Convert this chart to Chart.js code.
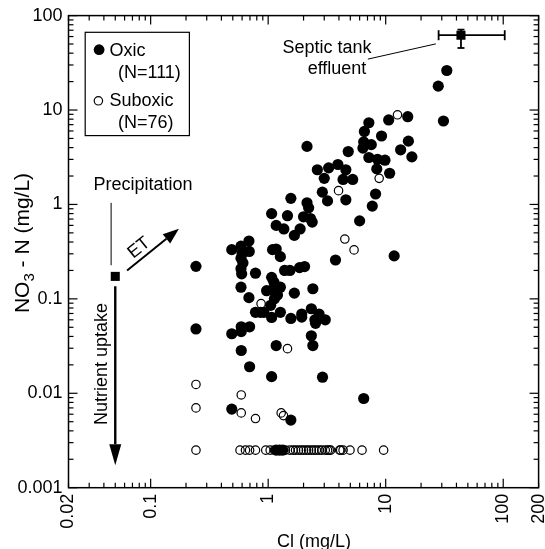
<!DOCTYPE html>
<html>
<head>
<meta charset="utf-8">
<script src="https://cdn.jsdelivr.net/npm/chart.js@4"></script>
<style>
  html, body { margin: 0; padding: 0; background: #fff; }
</style>
</head>
<body>
<canvas id="c" width="545" height="549"></canvas>
<script>
// Oxic wells (filled)
const oxicCl = [0.243, 0.243, 28.0, 33.1, 31.0, 15.4, 10.6, 7.19, 6.59, 9.22, 6.5, 7.54, 6.4, 15.6, 13.4, 16.7,
  2.14, 4.8, 7.19, 8.51, 9.86, 8.4, 10.8, 8.2, 7.69, 6.0, 3.92, 3.27, 2.62, 4.58, 5.24, 4.34, 3.0, 2.89, 3.2,
  4.58, 2.14, 2.21, 2.29, 2.37, 2.0, 1.56, 1.46, 1.07, 1.17, 1.36, 1.67, 1.87, 0.49, 0.587, 0.686, 0.69, 0.587,
  0.587, 0.595, 0.587, 0.686, 0.78, 0.49, 0.59, 0.695, 0.59, 0.78, 0.92, 1.09, 1.17, 1.27, 1.38, 1.53, 1.85,
  2.04, 1.07, 0.97, 1.09, 1.27, 1.67, 2.4, 1.13, 1.05, 0.86, 1.07, 1.27, 1.56, 1.93, 1.93, 2.33, 2.71, 2.53,
  3.06, 2.33, 2.4, 1.17, 1.07, 2.9, 0.695, 0.59, 0.49, 1.56, 6.5, 3.74, 11.8, 1.17, 1.25, 1.33, 0.6, 0.61,
  1.12, 1.2, 2.5];
const oxicNO3 = [0.221, 0.048, 17.9, 26.2, 7.65, 8.5, 7.85, 7.33, 5.93, 5.31, 4.6, 4.3, 3.95, 4.68, 3.79, 3.19,
  4.12, 3.63, 3.14, 3.01, 2.94, 2.38, 2.14, 1.29, 0.96, 0.67, 2.65, 2.44, 2.33, 2.33, 1.84, 1.84, 1.89, 1.35, 1.09,
  1.12, 1.04, 0.92, 0.71, 0.65, 0.74, 1.16, 0.76, 0.80, 0.60, 0.55, 0.47, 0.55, 0.332, 0.361, 0.41, 0.318, 0.269,
  0.208, 0.184, 0.133, 0.103, 0.187, 0.0427, 0.0506, 0.0506, 0.045, 0.072, 0.072, 0.332, 0.337, 0.28, 0.2, 0.2, 0.214,
  0.22, 0.169, 0.122, 0.125, 0.133, 0.115, 0.128, 0.1, 0.0855, 0.072, 0.0636, 0.072, 0.062, 0.069, 0.064, 0.0786, 0.069, 0.055,
  0.060, 0.0406, 0.032, 0.032, 0.015, 0.0148, 0.0191, 0.0284, 0.0068, 0.0052, 0.0088, 0.258, 0.285, 0.0025, 0.0025, 0.0025, 0.30, 0.24,
  0.15, 0.11, 0.06];

// Suboxic wells (open)
const suboxicCl = [12.6, 8.8, 3.97, 4.49, 5.38, 0.87, 1.46, 0.243, 0.243, 0.59, 0.59, 0.78, 1.29, 1.35,
  0.243, 0.576, 0.641, 0.695, 0.78, 0.954, 1.04, 1.13, 1.22, 1.31, 1.40, 1.53, 1.63, 1.71, 1.81, 1.91, 2.0,
  2.11, 2.21, 2.33, 2.45, 2.57, 2.71, 2.86, 3.06, 3.2, 3.31, 3.4, 4.06, 4.14, 4.34, 4.97, 6.29, 9.6];
const suboxicNO3 = [8.9, 1.89, 1.40, 0.43, 0.33, 0.089, 0.0297, 0.0124, 0.0070, 0.0096, 0.0062, 0.0054, 0.0062, 0.0058,
  0.0025, 0.0025, 0.0025, 0.0025, 0.0025, 0.0025, 0.0025, 0.0025, 0.0025, 0.0025, 0.0025, 0.0025, 0.0025, 0.0025, 0.0025, 0.0025, 0.0025,
  0.0025, 0.0025, 0.0025, 0.0025, 0.0025, 0.0025, 0.0025, 0.0025, 0.0025, 0.0025, 0.0025, 0.0025, 0.0025, 0.0025, 0.0025, 0.0025, 0.0025];

// End members
const septicCl = [43.7];
const septicNO3 = [62];
const septicClRange = [28.2, 103];
const septicNO3Range = [45.4, 71];
const precipCl = [0.05];
const precipNO3 = [0.173];

// Axis labels
const xTickValues = [0.02, 0.1, 1, 10, 100, 200];
const xTickLabels = ['0.02', '0.1', '1', '10', '100', '200'];
const yTickValues = [0.001, 0.01, 0.1, 1, 10, 100];
const yTickLabels = ['0.001', '0.01', '0.1', '1', '10', '100'];

const FONT = '"Liberation Sans", Arial, Helvetica, sans-serif';
const PLOT_RIGHT = 544;

// minor tick positions 2..9 per decade
function logTicks(min, max) {
  const out = [];
  for (let e = Math.floor(Math.log10(min)); e <= Math.ceil(Math.log10(max)); e++) {
    for (let m = 1; m <= 9; m++) {
      const v = +(m * Math.pow(10, e)).toPrecision(6);
      if (v >= min - 1e-12 && v <= max + 1e-9) out.push(v);
    }
  }
  return out;
}
const xAll = logTicks(0.02, 200);
const yAll = logTicks(0.001, 100);
const isDecade = v => Math.abs(Math.log10(v) - Math.round(Math.log10(v))) < 1e-9;

function labelFor(v, vals, labels) {
  for (let i = 0; i < vals.length; i++) {
    if (Math.abs(vals[i] - v) / vals[i] < 1e-6) return labels[i];
  }
  return '';
}

const noPad = () => ({ left: 0, right: 0, top: 0, bottom: 0 });

const decor = {
  id: 'decor',
  afterDraw(chart) {
    const ctx = chart.ctx, a = chart.chartArea;
    const xs = chart.scales.x, ys = chart.scales.y;
    const X = v => xs.getPixelForValue(v), Y = v => ys.getPixelForValue(v);
    const line = (x1, y1, x2, y2) => { ctx.beginPath(); ctx.moveTo(x1, y1); ctx.lineTo(x2, y2); ctx.stroke(); };
    const arrow = (x1, y1, x2, y2, lw, hl, hw) => {
      const ang = Math.atan2(y2 - y1, x2 - x1);
      const bx = x2 - hl * Math.cos(ang), by = y2 - hl * Math.sin(ang);
      ctx.lineWidth = lw;
      line(x1, y1, bx, by);
      ctx.beginPath();
      ctx.moveTo(x2, y2);
      ctx.lineTo(bx + hw / 2 * Math.sin(ang), by - hw / 2 * Math.cos(ang));
      ctx.lineTo(bx - hw / 2 * Math.sin(ang), by + hw / 2 * Math.cos(ang));
      ctx.closePath();
      ctx.fill();
    };

    ctx.save();
    ctx.strokeStyle = '#000';
    ctx.fillStyle = '#000';

    // frame
    ctx.lineWidth = 1.5;
    ctx.strokeRect(a.left, a.top, a.right - a.left, a.bottom - a.top);

    // inward ticks on all four sides
    ctx.lineWidth = 1.2;
    xAll.forEach(v => {
      const p = X(v), L = isDecade(v) ? 9 : 5;
      line(p, a.bottom, p, a.bottom - L);
      line(p, a.top, p, a.top + L);
    });
    yAll.forEach(v => {
      const p = Y(v), L = isDecade(v) ? 9 : 5;
      line(a.left, p, a.left + L, p);
      line(a.right, p, a.right - L, p);
    });

    // septic tank error bars
    ctx.lineWidth = 1.8;
    const sx = X(septicCl[0]), sy = Y(septicNO3[0]);
    line(X(septicClRange[0]), sy, X(septicClRange[1]), sy);
    line(X(septicClRange[0]), sy - 5, X(septicClRange[0]), sy + 5);
    line(X(septicClRange[1]), sy - 5, X(septicClRange[1]), sy + 5);
    line(sx, Y(septicNO3Range[0]), sx, Y(septicNO3Range[1]));
    line(sx - 3.5, Y(septicNO3Range[0]), sx + 3.5, Y(septicNO3Range[0]));
    line(sx - 3.5, Y(septicNO3Range[1]), sx + 3.5, Y(septicNO3Range[1]));

    // leader lines
    ctx.lineWidth = 1;
    line(X(7.05), Y(34.6), X(26.7), Y(50.2));
    line(X(0.0461), Y(1.04), X(0.0461), Y(0.227));

    // ET and nutrient uptake arrows
    arrow(X(0.063), Y(0.2), X(0.174), Y(0.552), 2, 16, 12);
    arrow(X(precipCl[0]), Y(0.136), X(precipCl[0]), Y(0.00173), 2.4, 21, 12);

    // annotation text
    ctx.font = '18px ' + FONT;
    ctx.textAlign = 'center';
    ctx.textBaseline = 'alphabetic';
    ctx.fillText('Septic tank', 327, 53);
    ctx.fillText('effluent', 337, 74);
    ctx.fillText('Precipitation', 143, 189.5);

    ctx.save();
    ctx.translate(139, 248);
    ctx.rotate(-38.7 * Math.PI / 180);
    ctx.textBaseline = 'middle';
    ctx.fillText('ET', 0, 0);
    ctx.restore();

    ctx.save();
    ctx.translate(102.5, 364);
    ctx.rotate(-Math.PI / 2);
    ctx.textBaseline = 'middle';
    ctx.fillText('Nutrient uptake', 0, 0);
    ctx.restore();

    // legend
    ctx.lineWidth = 1.2;
    ctx.strokeRect(85.2, 32.3, 104.2, 103.3);
    ctx.beginPath(); ctx.arc(99.1, 49.7, 5.4, 0, Math.PI * 2); ctx.fill();
    ctx.lineWidth = 1.2;
    ctx.beginPath(); ctx.arc(98.4, 100.8, 4.2, 0, Math.PI * 2); ctx.stroke();
    ctx.textAlign = 'left';
    ctx.fillText('Oxic', 109.5, 55.8);
    ctx.fillText('(N=111)', 118, 77.5);
    ctx.fillText('Suboxic', 109.5, 106.3);
    ctx.fillText('(N=76)', 118, 128);

    // x axis title
    ctx.textAlign = 'center';
    ctx.fillText('Cl (mg/L)', 314, 546.5);

    // y axis title with subscript
    ctx.save();
    ctx.translate(23, 243);
    ctx.rotate(-Math.PI / 2);
    ctx.textAlign = 'left';
    ctx.textBaseline = 'middle';
    const big = '21px ' + FONT, small = '15px ' + FONT;
    ctx.font = big; const w1 = ctx.measureText('NO').width;
    ctx.font = small; const w2 = ctx.measureText('3').width;
    ctx.font = big; const w3 = ctx.measureText(' - N (mg/L)').width;
    let x0 = -(w1 + w2 + w3) / 2;
    ctx.font = big; ctx.fillText('NO', x0, 0);
    ctx.font = small; ctx.fillText('3', x0 + w1, 7);
    ctx.font = big; ctx.fillText(' - N (mg/L)', x0 + w1 + w2, 0);
    ctx.restore();

    ctx.restore();
  }
};

const chart = new Chart(document.getElementById('c'), {
  type: 'scatter',
  data: {
    datasets: [
      {
        label: 'Septic tank effluent',
        data: septicCl.map((x, i) => ({ x: x, y: septicNO3[i] })),
        pointStyle: 'rect',
        pointRadius: 6.4,
        backgroundColor: '#000',
        borderColor: '#000',
        borderWidth: 0
      },
      {
        label: 'Precipitation',
        data: precipCl.map((x, i) => ({ x: x, y: precipNO3[i] })),
        pointStyle: 'rect',
        pointRadius: 6.4,
        backgroundColor: '#000',
        borderColor: '#000',
        borderWidth: 0,
        clip: false
      },
      {
        label: 'Oxic',
        data: oxicCl.map((x, i) => ({ x: x, y: oxicNO3[i] })),
        pointRadius: 5.6,
        backgroundColor: '#000',
        borderColor: '#000',
        borderWidth: 0
      },
      {
        label: 'Suboxic',
        data: suboxicCl.map((x, i) => ({ x: x, y: suboxicNO3[i] })),
        pointRadius: 4.2,
        backgroundColor: 'rgba(255,255,255,0)',
        borderColor: '#000',
        borderWidth: 1.2
      }
    ]
  },
  options: {
    responsive: false,
    animation: false,
    events: [],
    layout: { padding: { top: 15.6, right: 1, bottom: 0, left: 0 } },
    plugins: { legend: { display: false }, tooltip: { enabled: false } },
    scales: {
      x: {
        type: 'logarithmic',
        min: 0.02,
        max: 200,
        grid: { display: false, drawTicks: false },
        border: { display: false },
        afterBuildTicks: s => { s.ticks = xAll.map(v => ({ value: v })); },
        afterFit: s => { s.height = 61.3; s.paddingLeft = 0; s.paddingRight = 0; s.getPadding = noPad; },
        ticks: {
          autoSkip: false,
          minRotation: 90,
          maxRotation: 90,
          padding: 6,
          color: '#000',
          font: { family: FONT, size: 18 },
          callback: (v, i, t) => labelFor(t[i].value, xTickValues, xTickLabels)
        }
      },
      y: {
        type: 'logarithmic',
        min: 0.001,
        max: 100,
        grid: { display: false, drawTicks: false },
        border: { display: false },
        afterBuildTicks: s => { s.ticks = yAll.map(v => ({ value: v })); },
        afterFit: s => { s.width = 68.5; s.paddingTop = 0; s.paddingBottom = 0; s.getPadding = noPad; },
        ticks: {
          autoSkip: false,
          padding: 6,
          color: '#000',
          font: { family: FONT, size: 18 },
          callback: (v, i, t) => labelFor(t[i].value, yTickValues, yTickLabels)
        }
      }
    }
  },
  plugins: [decor]
});

// make sure the plot area reaches the right edge like the original
const dr = chart.chartArea.right - PLOT_RIGHT;
if (Math.abs(dr) > 0.3) {
  chart.options.layout.padding.right += dr;
  chart.update();
}
</script>
</body>
</html>
